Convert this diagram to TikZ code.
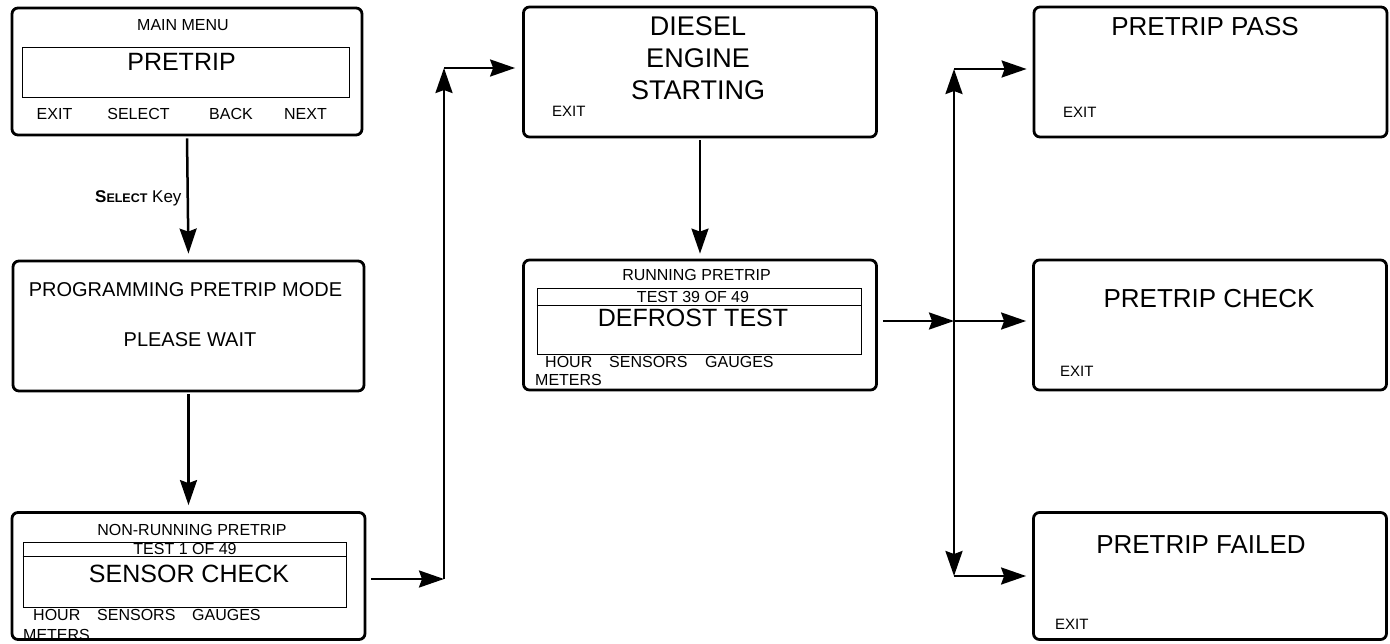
\documentclass[tikz,border=0pt]{standalone}
\usepackage{fontspec}
\setmainfont{Liberation Sans}
\usetikzlibrary{arrows.meta,positioning}

\newcommand{\fs}[1]{\fontsize{#1}{#1}\selectfont}

\begin{document}
\begin{tikzpicture}[
    x=1pt, y=-1pt,
    screen/.style={draw, line width=2.8pt, rounded corners=6pt,
                   minimum width=353pt, minimum height=130pt, inner sep=0pt},
    lcd/.style={draw, line width=0.9pt, inner sep=0pt},
    txt/.style={inner sep=0pt, font=\fs{16}},
    mid/.style={inner sep=0pt, font=\fs{20}},
    big/.style={inner sep=0pt, font=\fs{26}},
    soft/.style={inner sep=0pt, font=\fs{15}, anchor=west},
    arr/.style={-{Stealth[length=25pt, width=17pt, inset=3pt]}, line width=2.5pt}
]
\useasboundingbox (0,0) rectangle (1390,643);

\node[screen, minimum width=350pt, minimum height=127pt] (menu) at (187,71.5) {};
\node[screen, minimum width=351pt] (prog) at (188.5,326) {};
\node[screen, minimum height=127pt] (nonrun) at (188.5,576) {};
\node[screen] (diesel) at (700,72) {};
\node[screen] (running) at (700,325) {};
\node[screen] (pass) at (1210.5,72) {};
\node[screen] (check) at (1210,325) {};
\node[screen, minimum height=127pt] (failed) at (1210,576) {};

\node[txt] (menu-title) at (183,25) {MAIN MENU};
\node[lcd, minimum width=327pt, minimum height=50pt] (menu-lcd) at (185.5,72) {};
\node[big, font=\fs{25}] (menu-item) at (181.5,62) {PRETRIP};
\foreach \t/\x in {EXIT/54.5, SELECT/138.5, BACK/231, NEXT/305.5}
    \node[txt] (menu-\t) at (\x,114) {\t};

\node[mid] (prog-top) at (185.5,290) {PROGRAMMING PRETRIP MODE};
\node[mid] (prog-wait) at (190,340) {PLEASE WAIT};

\node[txt] (nonrun-title) at (192,530) {NON-RUNNING PRETRIP};
\node[lcd, minimum width=323pt, minimum height=65pt] (nonrun-lcd) at (184.5,574.5) {};
\draw[line width=0.9pt] (nonrun-lcd.west |- 0,556) -- (nonrun-lcd.east |- 0,556);
\node[txt] (nonrun-count) at (185,549) {TEST 1 OF 49};
\node[big, font=\fs{25}] (nonrun-test) at (189,574) {SENSOR CHECK};
\foreach \t/\x in {HOUR/33, SENSORS/97, GAUGES/192}
    \node[txt, anchor=west] (nonrun-\t) at (\x,615) {\t};
\node[txt, anchor=west] (nonrun-METERS) at (23,635) {METERS};

\node[big, font=\fs{27}] (diesel-a) at (698,26) {DIESEL};
\node[big, font=\fs{27}] (diesel-b) at (698,58) {ENGINE};
\node[big, font=\fs{27}] (diesel-c) at (698,90) {STARTING};
\node[soft] (diesel-exit) at (552,111) {EXIT};

\node[txt] (running-title) at (696.5,275) {RUNNING PRETRIP};
\node[lcd, minimum width=324pt, minimum height=66pt] (running-lcd) at (699,321) {};
\draw[line width=0.9pt] (running-lcd.west |- 0,305) -- (running-lcd.east |- 0,305);
\node[txt] (running-count) at (693,297) {TEST 39 OF 49};
\node[big, font=\fs{25}] (running-test) at (693,318) {DEFROST TEST};
\foreach \t/\x in {HOUR/545, SENSORS/609, GAUGES/705}
    \node[txt, anchor=west] (running-\t) at (\x,362) {\t};
\node[txt, anchor=west] (running-METERS) at (535,380) {METERS};

\node[big] (pass-title) at (1205,27) {PRETRIP PASS};
\node[soft] (pass-exit) at (1063,112) {EXIT};
\node[big] (check-title) at (1209,299) {PRETRIP CHECK};
\node[soft] (check-exit) at (1060,371) {EXIT};
\node[big] (failed-title) at (1201,545) {PRETRIP FAILED};
\node[soft] (failed-exit) at (1055,624) {EXIT};

\draw[arr, shorten <=2pt, shorten >=6pt] (menu.south) --
    node[left=5pt, txt, font=\fs{17}] (selkey) {{\bfseries S{\fs{12.5}ELECT}} Key} (prog.north);
\draw[arr, shorten <=2pt, shorten >=6pt] (prog.south) -- (nonrun.north);
\draw[arr, shorten <=2pt, shorten >=5pt] (diesel.south) -- (running.north);

\coordinate (lb) at (444,579);
\coordinate (lt) at (444,68);
\draw[arr, shorten <=5pt] (nonrun.east |- lb) -- (lb);
\draw[arr] (lb) -- (lt);
\draw[arr, shorten >=7pt] (lt) -- (lt -| diesel.west);

\coordinate (j) at (954,321);
\coordinate (jt) at (954,69);
\coordinate (jb) at (954,576);
\draw[arr, shorten <=5pt] (running.east |- j) -- (j);
\draw[arr, shorten >=6pt] (j) -- (j -| check.west);
\draw[arr] (j) -- (jt);
\draw[arr] (j) -- (jb);
\draw[arr, shorten >=6pt] (jt) -- (jt -| pass.west);
\draw[arr, shorten >=6pt] (jb) -- (jb -| failed.west);
\end{tikzpicture}
\end{document}
